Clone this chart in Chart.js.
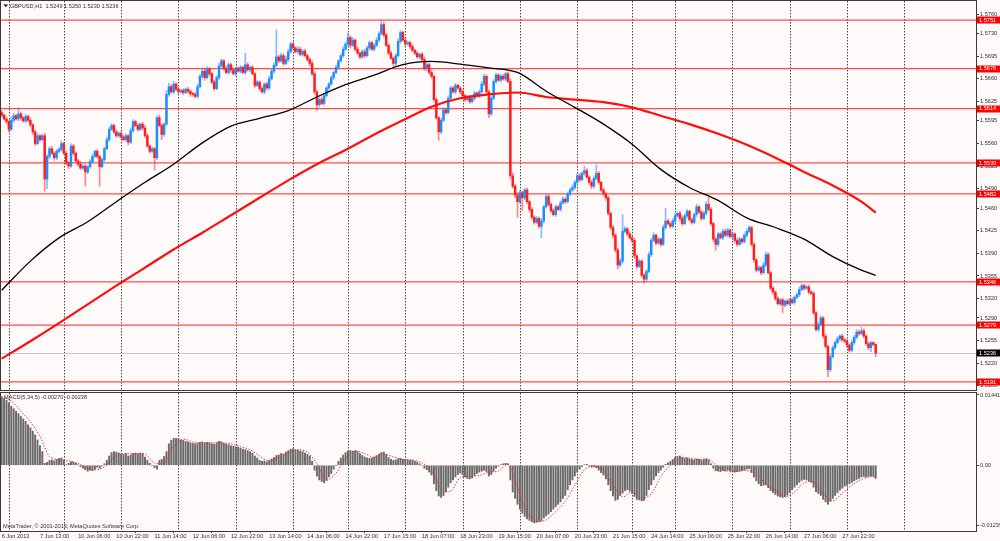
<!DOCTYPE html>
<html>
<head>
<meta charset="utf-8">
<script src="https://cdn.jsdelivr.net/npm/chart.js@4.4.1/dist/chart.umd.min.js"></script>
<style>
  html, body { margin: 0; padding: 0; background: #fffafa; }
  #wrap { position: relative; width: 1000px; height: 541px; overflow: hidden; background: #fffafa; }
  canvas { position: absolute; left: 0; }
  #price { top: 0; }
  #macd { top: 391px; }
</style>
</head>
<body>
<div id="wrap">
  <canvas id="price" width="1000" height="391"></canvas>
  <canvas id="macd" width="1000" height="150"></canvas>
</div>
<script>
// === DATA (GBPUSD H1) ===

const firstOpen = 1.5608;

const closes = [
  1.5604, 1.5598, 1.5594, 1.5582, 1.5596, 1.5603, 1.5598, 1.5606, 1.5600, 1.5595,
  1.5602, 1.5596, 1.5589, 1.5578, 1.5560, 1.5572, 1.5566, 1.5572, 1.5505, 1.5540,
  1.5552, 1.5545, 1.5538, 1.5548, 1.5551, 1.5560, 1.5545, 1.5530, 1.5525, 1.5556,
  1.5545, 1.5533, 1.5528, 1.5522, 1.5525, 1.5516, 1.5524, 1.5532, 1.5540, 1.5548,
  1.5540, 1.5524, 1.5535, 1.5552, 1.5566, 1.5582, 1.5588, 1.5578, 1.5572, 1.5576,
  1.5570, 1.5566, 1.5572, 1.5562, 1.5580, 1.5594, 1.5588, 1.5582, 1.5590, 1.5584,
  1.5572, 1.5556, 1.5548, 1.5552, 1.5538, 1.5600, 1.5588, 1.5574, 1.5590, 1.5636,
  1.5648, 1.5640, 1.5652, 1.5644, 1.5640, 1.5642, 1.5639, 1.5644, 1.5641, 1.5637,
  1.5636, 1.5633, 1.5648, 1.5664, 1.5672, 1.5662, 1.5675, 1.5668, 1.5655, 1.5645,
  1.5662, 1.5680, 1.5688, 1.5676, 1.5670, 1.5682, 1.5674, 1.5668, 1.5676, 1.5672,
  1.5678, 1.5670, 1.5682, 1.5674, 1.5678, 1.5668, 1.5650, 1.5655, 1.5645, 1.5640,
  1.5652, 1.5646, 1.5660, 1.5672, 1.5681, 1.5694, 1.5688, 1.5696, 1.5684, 1.5690,
  1.5702, 1.5714, 1.5708, 1.5702, 1.5706, 1.5698, 1.5703, 1.5696, 1.5690, 1.5684,
  1.5668, 1.5640, 1.5620, 1.5628, 1.5622, 1.5634, 1.5646, 1.5652, 1.5662, 1.5670,
  1.5678, 1.5688, 1.5696, 1.5706, 1.5714, 1.5724, 1.5712, 1.5720, 1.5706, 1.5700,
  1.5694, 1.5702, 1.5696, 1.5708, 1.5716, 1.5706, 1.5712, 1.5720, 1.5730, 1.5744,
  1.5728, 1.5712, 1.5700, 1.5692, 1.5684, 1.5696, 1.5718, 1.5732, 1.5720, 1.5714,
  1.5716, 1.5710, 1.5704, 1.5700, 1.5694, 1.5698, 1.5690, 1.5676, 1.5682, 1.5670,
  1.5664, 1.5628, 1.5600, 1.5578, 1.5596, 1.5612, 1.5608, 1.5630, 1.5646, 1.5640,
  1.5650, 1.5646, 1.5640, 1.5634, 1.5628, 1.5632, 1.5625, 1.5630, 1.5638, 1.5634,
  1.5640, 1.5652, 1.5664, 1.5640, 1.5606, 1.5630, 1.5656, 1.5666, 1.5658, 1.5664,
  1.5660, 1.5668, 1.5656, 1.5510, 1.5494, 1.5480, 1.5470, 1.5484, 1.5476, 1.5488,
  1.5470, 1.5458, 1.5446, 1.5438, 1.5444, 1.5432, 1.5440, 1.5462, 1.5478, 1.5466,
  1.5456, 1.5450, 1.5462, 1.5458, 1.5468, 1.5474, 1.5470, 1.5482, 1.5488, 1.5492,
  1.5500, 1.5510, 1.5504, 1.5514, 1.5518, 1.5508, 1.5500, 1.5494, 1.5506, 1.5514,
  1.5500, 1.5488, 1.5482, 1.5476, 1.5452, 1.5430, 1.5418, 1.5395, 1.5372, 1.5378,
  1.5424, 1.5428, 1.5420, 1.5414, 1.5410, 1.5386, 1.5370, 1.5378, 1.5356, 1.5350,
  1.5362, 1.5388, 1.5410, 1.5418, 1.5406, 1.5412, 1.5404, 1.5430, 1.5440, 1.5436,
  1.5432, 1.5440, 1.5448, 1.5452, 1.5444, 1.5436, 1.5448, 1.5455, 1.5442, 1.5438,
  1.5450, 1.5462, 1.5454, 1.5444, 1.5452, 1.5466, 1.5458, 1.5436, 1.5412, 1.5404,
  1.5420, 1.5414, 1.5424, 1.5418, 1.5426, 1.5416, 1.5420, 1.5410, 1.5404, 1.5412,
  1.5408, 1.5418, 1.5424, 1.5430, 1.5404, 1.5380, 1.5364, 1.5368, 1.5360, 1.5372,
  1.5388, 1.5360, 1.5336, 1.5330, 1.5320, 1.5312, 1.5318, 1.5310, 1.5316, 1.5312,
  1.5318, 1.5314, 1.5322, 1.5326, 1.5334, 1.5340, 1.5336, 1.5338, 1.5330, 1.5328,
  1.5298, 1.5272, 1.5280, 1.5290, 1.5262, 1.5246, 1.5210, 1.5230, 1.5244, 1.5252,
  1.5258, 1.5262, 1.5256, 1.5254, 1.5248, 1.5240, 1.5252, 1.5260, 1.5268, 1.5266,
  1.5270, 1.5262, 1.5250, 1.5244, 1.5252, 1.5249, 1.5236
];

// wick lengths above / below the body, in pips
const wickUp = [
  3,2,3,2,5,4,2,10,3,2, 3,2,4,2,3,4,2,3,4,3, 3,4,2,3,3,4,2,3,2,4, 3,2,3,4,2,3,2,3,4,2,
  3,2,3,2,4,3,3,2,3,2, 2,3,3,2,4,3,2,3,2,3, 4,3,2,3,2,3,4,3,2,6, 5,3,4,2,3,2,3,2,3,2,
  2,3,4,3,5,3,4,3,2,3, 3,4,3,2,4,3,2,3,2,3, 3,2,18,3,2,3,2,3,2,3, 2,3,4,3,4,42,3,4,3,5,
  4,3,3,2,4,3,2,3,2,3, 4,3,2,3,4,3,2,3,3,2, 3,2,3,4,3,7,3,4,2,3, 2,3,4,3,3,2,3,4,3,6,
  4,3,2,3,2,3,4,3,2,3, 3,2,3,2,3,2,3,4,3,2, 3,2,3,2,3,4,3,4,3,2, 3,2,3,4,2,3,2,3,3,2,
  3,4,3,2,3,4,3,3,2,3, 3,2,3,4,5,3,4,3,2,3, 3,2,3,2,3,2,4,3,4,3, 2,3,3,2,3,4,2,3,3,4,
  3,3,4,2,7,3,2,3,4,13, 3,2,3,2,3,2,3,2,3,4, 26,3,2,3,2,3,2,3,2,3, 3,4,3,4,2,3,2,4,20,3,
  3,4,3,2,3,4,3,3,2,3, 3,4,2,3,3,4,11,3,2,3, 3,2,3,4,3,2,3,2,3,3, 2,3,4,3,2,3,2,3,2,4,
  4,3,2,3,2,3,2,3,2,3, 2,3,2,3,4,3,2,3,3,2, 3,2,4,3,2,3,2,4,3,3, 3,2,3,2,3,2,4,3,4,3,
  6,3,2,3,2,1,1
];
const wickDn = [
  3,2,3,4,2,3,2,3,4,2, 3,2,3,4,3,2,3,2,19,15, 3,2,4,3,2,3,2,3,4,2, 3,2,3,2,3,22,3,2,3,2,
  3,30,2,3,2,3,2,3,2,3, 3,2,3,4,2,3,2,3,2,3, 3,2,3,2,19,3,2,8,3,2, 3,2,3,2,3,2,3,2,3,4,
  3,2,3,2,3,4,2,3,2,3, 2,3,2,3,2,3,4,2,3,2, 3,2,3,2,3,2,3,2,3,2, 3,2,3,2,3,2,3,2,3,2,
  3,2,3,2,3,2,3,2,3,4, 3,3,8,3,2,3,2,3,2,3, 2,3,2,3,2,3,4,2,3,2, 3,2,3,2,3,2,3,2,3,2,
  3,2,3,2,4,3,2,3,2,3, 2,3,2,3,2,3,2,3,4,3, 3,4,3,13,3,2,3,2,3,2, 3,2,3,2,3,2,3,2,3,2,
  3,2,3,2,6,3,2,3,2,3, 2,3,2,5,3,4,24,3,20,3, 3,4,3,3,2,3,18,3,2,3, 3,2,3,2,3,2,3,2,3,2,
  3,2,3,2,3,2,3,4,3,2, 3,2,3,4,3,3,4,3,6,3, 3,2,3,2,3,4,3,2,3,6, 3,2,3,2,3,2,3,2,3,2,
  3,2,3,2,4,3,2,3,2,3, 2,3,2,3,2,3,2,3,4,9, 3,2,3,2,3,2,3,4,3,2, 3,2,3,2,3,4,3,2,3,2,
  3,2,3,4,3,2,3,12,3,2, 3,2,3,2,3,2,3,2,3,2, 3,2,3,2,3,3,11,3,2,3, 2,3,2,3,4,3,2,3,2,3,
  2,3,2,3,6,2,6
];

// moving averages, sampled every 12 bars (last point = last bar)
const blackMA = [
  1.5333, 1.5378, 1.5414, 1.5439, 1.5470, 1.5500, 1.5528, 1.5561, 1.5587, 1.5599, 1.5611,
  1.5632, 1.5651, 1.5666, 1.5682, 1.5687, 1.5683, 1.5677, 1.5670, 1.5641, 1.5616, 1.5590,
  1.5559, 1.5520, 1.5492, 1.5472, 1.5445, 1.5430, 1.5412, 1.5385, 1.5364, 1.5356
];
const redMA = [
  1.5227, 1.5254, 1.5282, 1.5311, 1.5340, 1.5368, 1.5396, 1.5422, 1.5449, 1.5476, 1.5503,
  1.5528, 1.5550, 1.5574, 1.5596, 1.5617, 1.5630, 1.5636, 1.5639, 1.5632, 1.5628, 1.5624,
  1.5616, 1.5603, 1.5590, 1.5575, 1.5558, 1.5538, 1.5516, 1.5495, 1.5470, 1.5453
];

const macdHist = [
  0.0140, 0.0137, 0.0133, 0.0128, 0.0121, 0.0116, 0.0111, 0.0106, 0.0100, 0.0095,
  0.0090, 0.0083, 0.0077, 0.0070, 0.0062, 0.0052, 0.0040, 0.0028, 0.0004, 0.0006,
  0.0010, 0.0011, 0.0009, 0.0012, 0.0014, 0.0015, 0.0011, 0.0001, 0.0004, 0.0007,
  0.0006, 0.0004, 0.0001, -0.0003, -0.0006, -0.0009, -0.0012, -0.0010, -0.0011, -0.0008,
  -0.0004, -0.0006, -0.0002, 0.0003, 0.0010, 0.0019, 0.0026, 0.0028, 0.0027, 0.0025,
  0.0023, 0.0022, 0.0024, 0.0019, 0.0021, 0.0024, 0.0025, 0.0024, 0.0025, 0.0024,
  0.0017, 0.0010, 0.0004, 0.0000, -0.0005, -0.0008, 0.0010, 0.0012, 0.0018, 0.0028,
  0.0044, 0.0051, 0.0055, 0.0055, 0.0054, 0.0052, 0.0051, 0.0049, 0.0048, 0.0046,
  0.0045, 0.0044, 0.0045, 0.0047, 0.0048, 0.0046, 0.0047, 0.0046, 0.0044, 0.0043,
  0.0046, 0.0049, 0.0048, 0.0045, 0.0043, 0.0042, 0.0040, 0.0039, 0.0038, 0.0037,
  0.0035, 0.0033, 0.0032, 0.0030, 0.0028, 0.0025, 0.0019, 0.0015, 0.0010, 0.0008,
  0.0009, 0.0007, 0.0010, 0.0013, 0.0016, 0.0020, 0.0021, 0.0024, 0.0023, 0.0027,
  0.0030, 0.0033, 0.0034, 0.0032, 0.0031, 0.0029, 0.0028, 0.0025, 0.0022, 0.0019,
  0.0008, -0.0010, -0.0022, -0.0030, -0.0033, -0.0036, -0.0031, -0.0024, -0.0017, -0.0008,
  0.0000, 0.0008, 0.0015, 0.0021, 0.0026, 0.0029, 0.0030, 0.0029, 0.0030, 0.0028,
  0.0024, 0.0020, 0.0017, 0.0015, 0.0014, 0.0015, 0.0017, 0.0020, 0.0023, 0.0026,
  0.0027, 0.0022, 0.0016, 0.0012, 0.0010, 0.0011, 0.0013, 0.0014, 0.0012, 0.0011,
  0.0011, 0.0010, 0.0010, 0.0008, 0.0006, 0.0003, 0.0000, -0.0006, -0.0009, -0.0014,
  -0.0020, -0.0038, -0.0052, -0.0063, -0.0066, -0.0062, -0.0055, -0.0045, -0.0036, -0.0030,
  -0.0024, -0.0019, -0.0016, -0.0019, -0.0024, -0.0027, -0.0028, -0.0026, -0.0021, -0.0017,
  -0.0014, -0.0012, -0.0010, -0.0013, -0.0022, -0.0019, -0.0012, -0.0006, -0.0002, 0.0001,
  0.0003, 0.0004, 0.0003, -0.0030, -0.0055, -0.0068, -0.0080, -0.0090, -0.0098, -0.0105,
  -0.0110, -0.0113, -0.0116, -0.0118, -0.0117, -0.0115, -0.0114, -0.0108, -0.0104, -0.0100,
  -0.0095, -0.0090, -0.0085, -0.0080, -0.0075, -0.0068, -0.0062, -0.0050, -0.0040, -0.0030,
  -0.0022, -0.0014, -0.0008, -0.0003, 0.0001, 0.0002, -0.0001, -0.0004, -0.0003, -0.0005,
  -0.0010, -0.0015, -0.0020, -0.0028, -0.0040, -0.0052, -0.0063, -0.0072, -0.0070, -0.0062,
  -0.0057, -0.0052, -0.0050, -0.0053, -0.0058, -0.0064, -0.0070, -0.0071, -0.0073, -0.0072,
  -0.0062, -0.0050, -0.0040, -0.0030, -0.0022, -0.0015, -0.0010, -0.0004, 0.0002, 0.0005,
  0.0008, 0.0012, 0.0016, 0.0018, 0.0019, 0.0016, 0.0014, 0.0015, 0.0013, 0.0012,
  0.0011, 0.0013, 0.0012, 0.0010, 0.0012, 0.0013, 0.0011, 0.0003, -0.0006, -0.0011,
  -0.0012, -0.0013, -0.0011, -0.0012, -0.0010, -0.0011, -0.0012, -0.0014, -0.0013, -0.0012,
  -0.0011, -0.0009, -0.0008, -0.0007, -0.0015, -0.0024, -0.0032, -0.0038, -0.0042, -0.0041,
  -0.0040, -0.0046, -0.0052, -0.0056, -0.0060, -0.0063, -0.0065, -0.0066, -0.0064, -0.0061,
  -0.0056, -0.0050, -0.0045, -0.0040, -0.0035, -0.0031, -0.0029, -0.0030, -0.0032, -0.0035,
  -0.0045, -0.0054, -0.0058, -0.0062, -0.0070, -0.0075, -0.0080, -0.0074, -0.0068, -0.0062,
  -0.0056, -0.0051, -0.0047, -0.0043, -0.0041, -0.0038, -0.0035, -0.0032, -0.0029, -0.0027,
  -0.0024, -0.0023, -0.0024, -0.0023, -0.0022, -0.0023, -0.0027
];

// signal line, sampled every 4 bars (last point = last bar)
const macdSignal = [
  0.0141, 0.0132, 0.0111, 0.0089, 0.0060, 0.0018, 0.0011, 0.0009, 0.0004, -0.0006,
  -0.0009, 0.0000, 0.0022, 0.0024, 0.0023, 0.0023, 0.0005, 0.0005, 0.0039, 0.0053,
  0.0048, 0.0046, 0.0046, 0.0046, 0.0044, 0.0038, 0.0032, 0.0019, 0.0009, 0.0016,
  0.0025, 0.0032, 0.0027, 0.0003, -0.0030, -0.0016, 0.0014, 0.0029, 0.0024, 0.0016,
  0.0023, 0.0017, 0.0012, 0.0011, 0.0005, -0.0010, -0.0048, -0.0053, -0.0025, -0.0023,
  -0.0021, -0.0014, -0.0012, 0.0002, -0.0046, -0.0097, -0.0115, -0.0112, -0.0095, -0.0074,
  -0.0041, -0.0009, -0.0001, -0.0011, -0.0041, -0.0065, -0.0054, -0.0067, -0.0059, -0.0023,
  0.0000, 0.0015, 0.0015, 0.0012, 0.0012, -0.0003, -0.0012, -0.0012, -0.0011, -0.0017,
  -0.0039, -0.0051, -0.0064, -0.0055, -0.0036, -0.0034, -0.0058, -0.0073, -0.0057, -0.0041,
  -0.0029, -0.0023, -0.0024
];

const levels = [1.5751, 1.5676, 1.5614, 1.5530, 1.5482, 1.5346, 1.5279, 1.5191];
const priceTicks = [1.5760, 1.5730, 1.5695, 1.5660, 1.5625, 1.5595, 1.5560, 1.5525, 1.5490,
  1.5460, 1.5425, 1.5390, 1.5355, 1.5320, 1.5290, 1.5255, 1.5220, 1.5185];
const macdTicks = [0.01441, 0, -0.01239];

const timeLabels = ['6 Jun 2013', '7 Jun 13:00', '10 Jun 06:00', '10 Jun 22:00', '11 Jun 14:00',
  '12 Jun 06:00', '12 Jun 22:00', '13 Jun 14:00', '14 Jun 06:00', '14 Jun 22:00', '17 Jun 15:00',
  '18 Jun 07:00', '18 Jun 23:00', '19 Jun 15:00', '20 Jun 07:00', '20 Jun 23:00', '21 Jun 15:00',
  '24 Jun 14:00', '25 Jun 06:00', '25 Jun 22:00', '26 Jun 14:00', '27 Jun 06:00', '27 Jun 22:00'];
const labelBars = [0, 16, 32, 48, 64, 80, 96, 112, 128, 144, 160, 176, 192, 208, 224, 240,
  256, 272, 288, 304, 320, 336, 352];
// first bar of each trading day (period separators)
const dayBars = [3, 26, 50, 74, 98, 122, 145, 169, 193, 217, 241, 264, 282, 306, 330, 354, 378];

// === DERIVED ===

const N = closes.length;
const lastBar = N - 1;
const opens = closes.map((c, i) => i === 0 ? firstOpen : closes[i - 1]);
const highs = closes.map((c, i) => Math.max(opens[i], c) + wickUp[i] / 10000);
const lows = closes.map((c, i) => Math.min(opens[i], c) - wickDn[i] / 10000);
const isUp = closes.map((c, i) => c >= opens[i]);
const maBars = blackMA.map((v, i) => Math.min(i * 12, lastBar));
const sigBars = macdSignal.map((v, i) => Math.min(i * 4, lastBar));

const FONT = '"Liberation Sans", Arial, sans-serif';
const FS = 5.6;
const TXT = '#303030';
const X_MIN = -0.3, X_MAX = 408;

function drawDaySeparators(chart) {
    const {ctx, chartArea: a, scales: {x}} = chart;
    ctx.save();
    ctx.strokeStyle = '#4a4a4a';
    ctx.lineWidth = 1;
    ctx.setLineDash([1.5, 1.5]);
    for (const b of dayBars) {
        const px = Math.round(x.getPixelForValue(b)) + 0.5;
        if (px < a.left || px > a.right) continue;
        ctx.beginPath();
        ctx.moveTo(px, a.top);
        ctx.lineTo(px, a.bottom);
        ctx.stroke();
    }
    ctx.restore();
}

function drawFrame(chart) {
    const {ctx, chartArea: a} = chart;
    ctx.save();
    ctx.strokeStyle = '#3a3a3a';
    ctx.lineWidth = 1;
    ctx.strokeRect(a.left - 0.5, a.top - 0.5, a.right - a.left + 1, a.bottom - a.top + 1);
    ctx.restore();
}

function priceBox(ctx, y, text, bg) {
    ctx.fillStyle = bg;
    ctx.fillRect(977, Math.round(y) - 3.5, 23, 7);
    ctx.fillStyle = '#ffffff';
    ctx.fillText(text, 979, y + 0.3);
}

const priceDecor = {
    id: 'priceDecor',
    beforeDatasetsDraw(chart) {
        drawDaySeparators(chart);
        const {ctx, chartArea: a, scales: {y}} = chart;
        ctx.save();
        ctx.strokeStyle = 'rgba(255, 55, 55, 0.9)';
        ctx.lineWidth = 1.3;
        for (const l of levels) {
            const py = y.getPixelForValue(l);
            ctx.beginPath();
            ctx.moveTo(a.left, py);
            ctx.lineTo(a.right, py);
            ctx.stroke();
        }
        ctx.strokeStyle = '#c8c8c8';
        ctx.lineWidth = 1;
        const cy = Math.round(y.getPixelForValue(closes[lastBar])) + 0.5;
        ctx.beginPath();
        ctx.moveTo(a.left, cy);
        ctx.lineTo(a.right, cy);
        ctx.stroke();
        ctx.restore();
    },
    afterDraw(chart) {
        drawFrame(chart);
        const {ctx, scales: {y}} = chart;
        ctx.save();
        ctx.font = FS + 'px ' + FONT;
        ctx.textBaseline = 'middle';
        ctx.textAlign = 'left';
        for (const l of levels) priceBox(ctx, y.getPixelForValue(l), l.toFixed(4), '#ff0000');
        priceBox(ctx, y.getPixelForValue(closes[lastBar]), closes[lastBar].toFixed(4), '#000000');

        // title
        ctx.fillStyle = '#000';
        ctx.beginPath();
        ctx.moveTo(3.5, 4.5);
        ctx.lineTo(8, 4.5);
        ctx.lineTo(5.75, 7);
        ctx.closePath();
        ctx.fill();
        ctx.fillStyle = TXT;
        const t = 'GBPUSD,H1  ' + [opens[lastBar], highs[lastBar], lows[lastBar], closes[lastBar]]
            .map(v => v.toFixed(4)).join(' ');
        ctx.fillText(t, 10, 6);
        ctx.restore();
    }
};

const macdDecor = {
    id: 'macdDecor',
    beforeDatasetsDraw(chart) {
        drawDaySeparators(chart);
    },
    afterDraw(chart) {
        drawFrame(chart);
        const {ctx, chartArea: a} = chart;
        ctx.save();
        ctx.font = FS + 'px ' + FONT;
        ctx.textBaseline = 'middle';
        ctx.fillStyle = TXT;
        ctx.fillText('MACD(5,34,5) -0.00270 -0.00238', 4, a.top + 4);
        ctx.fillText('MetaTrader, \u00a9 2001-2013, MetaQuotes Software Corp.', 3, a.bottom - 5);
        ctx.restore();
    }
};

function rightAxis(min, max, ticks, fmt) {
    return {
        position: 'right',
        min: min,
        max: max,
        afterBuildTicks: s => { s.ticks = ticks.map(v => ({ value: v })); },
        afterFit: s => { s.width = 24; s.paddingTop = 0; s.paddingBottom = 0; },
        border: { display: false },
        grid: { drawOnChartArea: false, drawTicks: true, tickLength: 3, color: '#404040' },
        ticks: { padding: 1, color: TXT, font: { family: FONT, size: FS }, callback: fmt, autoSkip: false }
    };
}

const common = {
    responsive: false,
    animation: false,
    events: [],
    plugins: { legend: { display: false }, tooltip: { enabled: false } }
};

// === CHARTS ===

new Chart(document.getElementById('price'), {
    type: 'bar',
    data: {
        datasets: [
            {
                type: 'line',
                data: maBars.map((b, i) => ({ x: b, y: blackMA[i] })),
                borderColor: '#000000',
                borderWidth: 1.3,
                pointRadius: 0,
                cubicInterpolationMode: 'monotone',
                order: 0
            },
            {
                type: 'line',
                data: maBars.map((b, i) => ({ x: b, y: redMA[i] })),
                borderColor: '#ff0d0d',
                borderWidth: 2.2,
                pointRadius: 0,
                cubicInterpolationMode: 'monotone',
                order: 0
            },
            {
                data: closes.map((c, i) => ({ x: i, y: [opens[i], c] })),
                backgroundColor: isUp.map(u => u ? '#1e8cff' : '#ff1c1c'),
                barThickness: 1.8,
                minBarLength: 1,
                grouped: false,
                order: 1
            },
            {
                data: closes.map((c, i) => ({ x: i, y: [lows[i], highs[i]] })),
                backgroundColor: isUp.map(u => u ? 'rgba(30, 140, 255, 0.55)' : 'rgba(255, 40, 40, 0.55)'),
                barThickness: 1,
                grouped: false,
                order: 2
            }
        ]
    },
    options: {
        ...common,
        layout: { padding: { left: 1, top: 1, right: 0, bottom: 1 } },
        scales: {
            x: { type: 'linear', min: X_MIN, max: X_MAX, display: false, offset: false },
            y: rightAxis(1.51785, 1.57806, priceTicks, v => v.toFixed(4))
        }
    },
    plugins: [priceDecor]
});

new Chart(document.getElementById('macd'), {
    type: 'bar',
    data: {
        datasets: [
            {
                type: 'line',
                data: sigBars.map((b, i) => ({ x: b, y: macdSignal[i] })),
                borderColor: 'rgba(255, 30, 30, 0.9)',
                borderWidth: 1,
                borderDash: [1.5, 1.5],
                pointRadius: 0,
                tension: 0.3,
                order: 0
            },
            {
                data: macdHist.map((v, i) => ({ x: i, y: v })),
                backgroundColor: '#6a6a6a',
                barThickness: 1.3,
                order: 1
            }
        ]
    },
    options: {
        ...common,
        layout: { padding: { left: 1, top: 2, right: 0, bottom: 0 } },
        scales: {
            x: {
                type: 'linear',
                min: X_MIN,
                max: X_MAX,
                offset: false,
                afterBuildTicks: s => { s.ticks = labelBars.map(v => ({ value: v })); },
                afterFit: s => { s.height = 10; s.paddingLeft = 0; s.paddingRight = 0; },
                border: { display: false },
                grid: { drawOnChartArea: false, drawTicks: true, tickLength: 2, color: '#404040' },
                ticks: {
                    align: 'start',
                    padding: 0,
                    maxRotation: 0,
                    autoSkip: false,
                    color: TXT,
                    font: { family: FONT, size: FS },
                    callback: v => timeLabels[labelBars.indexOf(v)]
                }
            },
            y: rightAxis(-0.01348, 0.01482, macdTicks, v => v === 0 ? '0.00' : v.toFixed(5))
        }
    },
    plugins: [macdDecor]
});
</script>
</body>
</html>
